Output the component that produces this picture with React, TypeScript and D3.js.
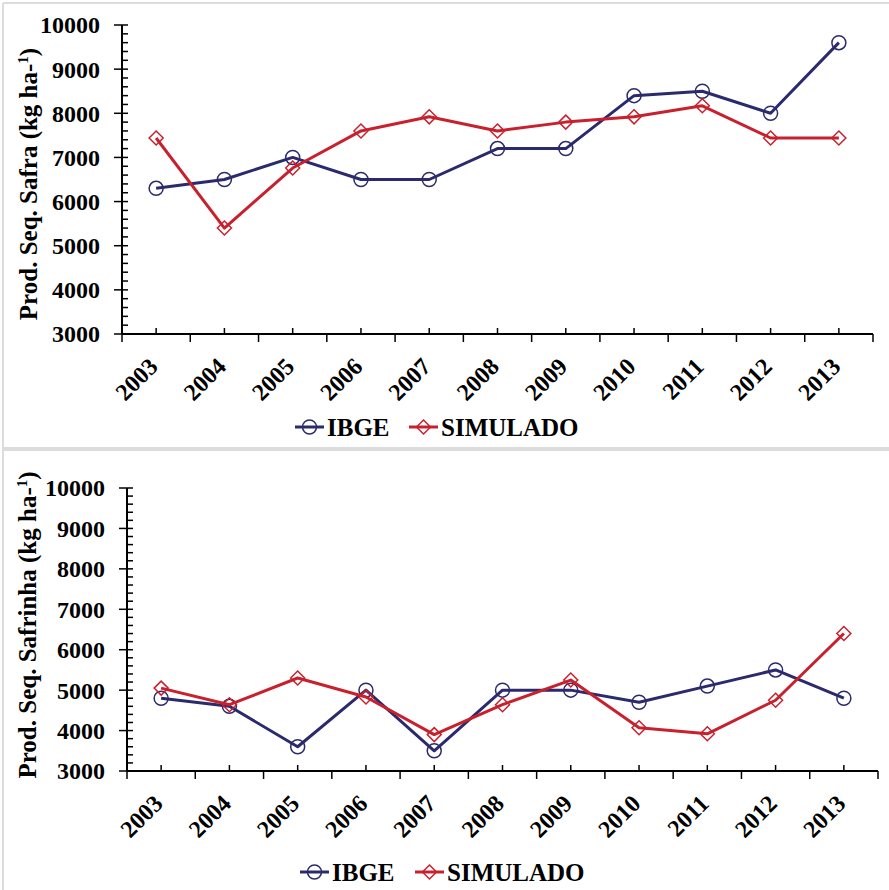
import React, { useEffect, useRef } from 'react';
import * as d3 from 'd3';

const years = ['2003', '2004', '2005', '2006', '2007', '2008', '2009', '2010', '2011', '2012', '2013'];

const safraIbge = [6300, 6500, 7000, 6500, 6500, 7200, 7200, 8400, 8500, 8000, 9600];
const safraSimulado = [7440, 5400, 6760, 7600, 7920, 7600, 7800, 7920, 8170, 7440, 7440];

const safrinhaIbge = [4800, 4600, 3600, 5000, 3500, 5000, 5000, 4700, 5100, 5500, 4800];
const safrinhaSimulado = [5050, 4640, 5300, 4830, 3900, 4640, 5250, 4070, 3920, 4750, 6400];

const yTicks = [3000, 4000, 5000, 6000, 7000, 8000, 9000, 10000];

const NAVY = '#2b2a6d';
const RED = '#c8212d';
const FONT = '"Liberation Serif", "Times New Roman", serif';

interface PanelSpec {
  ibge: number[];
  simulado: number[];
  label: string;
  x0: number;
  x1: number;
  yTop: number;
  yBottom: number;
  labelX: number;
  labelY: number;
  legendY: number;
  legendX: [number, number];
}

const panels: PanelSpec[] = [
  {
    ibge: safraIbge,
    simulado: safraSimulado,
    label: 'Prod. Seq. Safra (kg ha-',
    x0: 122, x1: 873, yTop: 25, yBottom: 334,
    labelX: 28, labelY: 184,
    legendY: 427, legendX: [295, 409]
  },
  {
    ibge: safrinhaIbge,
    simulado: safrinhaSimulado,
    label: 'Prod. Seq. Safrinha (kg ha-',
    x0: 127, x1: 878, yTop: 488, yBottom: 771,
    labelX: 27, labelY: 625,
    legendY: 872, legendX: [300, 415]
  }
];

const App: React.FC = () => {
  const ref = useRef<SVGSVGElement>(null);

  useEffect(() => {
    if (!ref.current) return;
    const svg = d3.select(ref.current);
    svg.selectAll('*').remove();

    // panel frames
    svg.append('line').attr('x1', 3).attr('x2', 889).attr('y1', 3).attr('y2', 3)
      .attr('stroke', '#dcdcdc').attr('stroke-width', 2);
    svg.append('line').attr('x1', 3).attr('x2', 3).attr('y1', 3).attr('y2', 890)
      .attr('stroke', '#dcdcdc').attr('stroke-width', 2);
    svg.append('line').attr('x1', 3).attr('x2', 889).attr('y1', 449).attr('y2', 449)
      .attr('stroke', '#dcdcdc').attr('stroke-width', 4);

    panels.forEach(p => {
      const g = svg.append('g');
      const x = d3.scaleBand().domain(years).range([p.x0, p.x1]).padding(0);
      const cx = (yr: string) => (x(yr) ?? 0) + x.bandwidth() / 2;
      const y = d3.scaleLinear().domain([3000, 10000]).range([p.yBottom, p.yTop]);

      // y axis
      g.append('line').attr('x1', p.x0).attr('x2', p.x0).attr('y1', p.yTop).attr('y2', p.yBottom)
        .attr('stroke', '#000').attr('stroke-width', 2);
      d3.range(3000, 10001, 200).forEach(v => {
        const major = v % 1000 === 0;
        g.append('line')
          .attr('x1', major ? p.x0 - 8 : p.x0).attr('x2', p.x0 + 6)
          .attr('y1', y(v)).attr('y2', y(v))
          .attr('stroke', '#000').attr('stroke-width', 1.5);
      });
      yTicks.forEach(v => {
        g.append('text')
          .attr('x', p.x0 - 22).attr('y', y(v))
          .attr('dy', '0.35em')
          .attr('text-anchor', 'end')
          .attr('font-family', FONT).attr('font-weight', 'bold').attr('font-size', 24)
          .text(v);
      });

      // x axis
      g.append('line').attr('x1', p.x0).attr('x2', p.x1).attr('y1', p.yBottom).attr('y2', p.yBottom)
        .attr('stroke', '#000').attr('stroke-width', 2);
      [...years.map(yr => x(yr) ?? 0), p.x1].forEach(bx => {
        g.append('line').attr('x1', bx).attr('x2', bx).attr('y1', p.yBottom).attr('y2', p.yBottom + 8)
          .attr('stroke', '#000').attr('stroke-width', 1.5);
      });
      years.forEach(yr => {
        g.append('line').attr('x1', cx(yr)).attr('x2', cx(yr)).attr('y1', p.yBottom - 6).attr('y2', p.yBottom)
          .attr('stroke', '#000').attr('stroke-width', 1.5);
        g.append('text')
          .attr('transform', `translate(${cx(yr) + 3},${p.yBottom + 34}) rotate(-45)`)
          .attr('text-anchor', 'end')
          .attr('font-family', FONT).attr('font-weight', 'bold').attr('font-size', 24)
          .text(yr);
      });

      // y label
      const lab = g.append('text')
        .attr('transform', `translate(${p.labelX},${p.labelY}) rotate(-90)`)
        .attr('text-anchor', 'middle')
        .attr('dy', '0.35em')
        .attr('font-family', FONT).attr('font-weight', 'bold').attr('font-size', 25);
      lab.append('tspan').text(p.label);
      lab.append('tspan').attr('font-size', 15).attr('dy', -9).text('1');
      lab.append('tspan').attr('dy', 9).text(')');

      // series
      const line = d3.line<number>()
        .x((_, i) => cx(years[i]))
        .y(d => y(d));

      const series = [
        { data: p.ibge, color: NAVY, shape: 'circle' },
        { data: p.simulado, color: RED, shape: 'diamond' }
      ];

      const drawMarker = (sel: any, shape: string, color: string, mx: number, my: number) => {
        if (shape === 'circle') {
          sel.append('circle').attr('cx', mx).attr('cy', my).attr('r', 7)
            .attr('fill', 'none').attr('stroke', color).attr('stroke-width', 1.5);
        } else {
          sel.append('path')
            .attr('d', `M${mx},${my - 7}L${mx + 7},${my}L${mx},${my + 7}L${mx - 7},${my}Z`)
            .attr('fill', 'none').attr('stroke', color).attr('stroke-width', 1.5);
        }
      };

      series.forEach(s => {
        g.append('path').datum(s.data).attr('d', line)
          .attr('fill', 'none').attr('stroke', s.color).attr('stroke-width', 3)
          .attr('stroke-linejoin', 'round');
        s.data.forEach((v, i) => drawMarker(g, s.shape, s.color, cx(years[i]), y(v)));
      });

      // legend
      const names = ['IBGE', 'SIMULADO'];
      series.forEach((s, i) => {
        const lx = p.legendX[i];
        g.append('line').attr('x1', lx).attr('x2', lx + 29).attr('y1', p.legendY).attr('y2', p.legendY)
          .attr('stroke', s.color).attr('stroke-width', 3);
        drawMarker(g, s.shape, s.color, lx + 14.5, p.legendY);
        g.append('text')
          .attr('x', lx + 32).attr('y', p.legendY).attr('dy', '0.35em')
          .attr('font-family', FONT).attr('font-weight', 'bold').attr('font-size', 25)
          .text(names[i]);
      });
    });
  }, []);

  return (
    <svg ref={ref} width={889} height={890}
      style={{ position: 'absolute', left: 0, top: 0, background: '#fff' }} />
  );
};

export default App;
